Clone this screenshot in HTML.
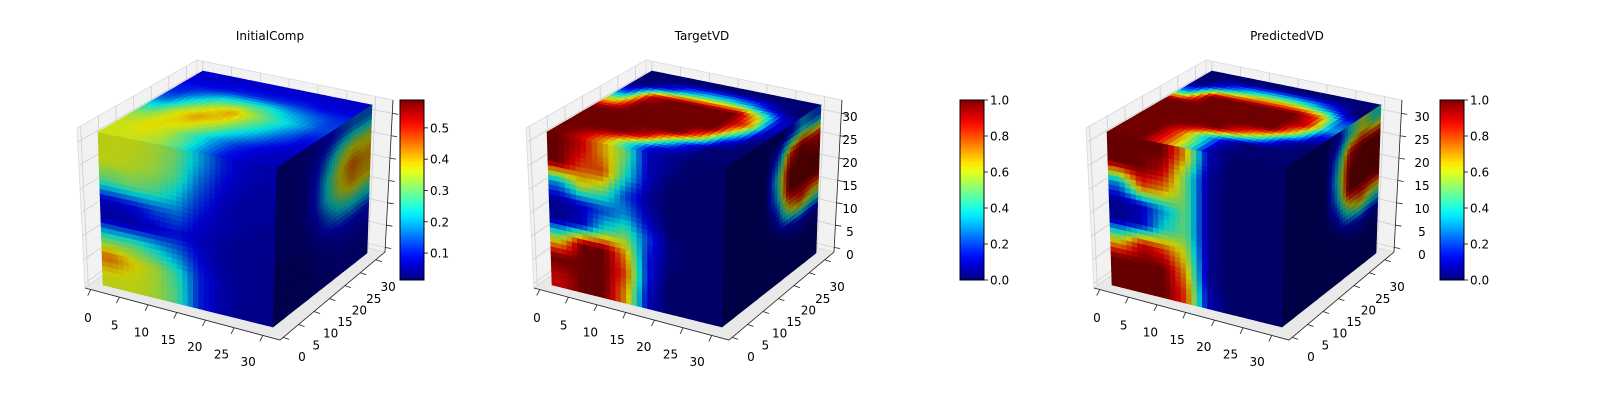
<!DOCTYPE html>
<html><head><meta charset="utf-8"><style>
html,body{margin:0;padding:0;background:#fff;}
svg{display:block;font-family:"DejaVu Sans","Liberation Sans",sans-serif;}
</style></head><body>
<svg id="fig" width="1600" height="400" viewBox="0 0 1600 400" xmlns="http://www.w3.org/2000/svg"></svg>
<script>
const panelTitles = ["InitialComp","TargetVD","PredictedVD"];
const panelDx = [0,449,1009];
const cbarX = [400,960,1440];
const cbarMin = [0.014,0,0];
const cbarMax = [0.589,1,1];
const cbarTicks1 = [0.1,0.2,0.3,0.4,0.5];
const cbarTicks2 = [0.0,0.2,0.4,0.6,0.8,1.0];
const axisTicks = [0,5,10,15,20,25,30];
// face value grids (rows x cols)
const p1Front=[[.36,.36,.34,.30,.20,.11,.07,.06],[.36,.35,.33,.28,.16,.09,.06,.05],[.28,.30,.28,.22,.12,.07,.05,.05],[.07,.09,.13,.15,.09,.06,.05,.04],[.05,.05,.07,.09,.07,.05,.04,.04],[.28,.28,.23,.17,.09,.05,.04,.04],[.45,.38,.34,.26,.11,.06,.04,.04],[.36,.36,.34,.28,.11,.06,.04,.04]];
const p1Top=[[.07,.07,.07,.07,.07,.07,.07,.07],[.09,.09,.11,.11,.11,.11,.09,.09],[.11,.18,.26,.28,.26,.20,.16,.12],[.16,.28,.36,.42,.33,.26,.20,.13],[.26,.36,.42,.38,.30,.23,.16,.10],[.33,.38,.38,.32,.24,.18,.12,.08],[.36,.38,.34,.26,.18,.12,.08,.06],[.36,.36,.34,.28,.18,.10,.07,.06]];
const p1Right=[[.03,.03,.04,.05,.08,.12,.15,.15],[.03,.03,.04,.08,.18,.30,.36,.35],[.03,.03,.04,.10,.25,.38,.46,.42],[.03,.03,.04,.10,.24,.36,.42,.40],[.03,.03,.03,.06,.14,.22,.25,.24],[.02,.02,.03,.04,.06,.08,.09,.08],[.02,.02,.02,.03,.04,.05,.05,.05],[.02,.02,.02,.03,.03,.04,.04,.04]];
const p2Front=[[1,.9,.7,.5,.1,.05,0,0],[1,.8,.8,.4,.1,0,0,0],[.3,.6,.5,.2,.05,0,0,0],[.05,.1,.2,.3,.1,0,0,0],[.05,.1,.4,.5,.2,.02,0,0],[.6,1,1,.7,.15,.02,0,0],[1,1,1,.8,.15,0,0,0],[.9,1,1,.7,.1,0,0,0]];
const p2Top=[[0,0,0,0,0,0,0,0],[0,.1,.3,.4,.4,.3,.1,0],[.2,.9,1,1,1,1,.6,.1],[.6,1,1,1,1,1,.8,.1],[1,1,1,1,1,1,.5,.05],[1,1,1,1,1,.7,.15,0],[1,1,1,.9,.5,.15,0,0],[1,.9,.7,.4,.1,.05,0,0]];
const p2Right=[[0,0,0,0,0,.1,.3,.2],[0,0,0,0,.2,.8,1,.9],[0,0,0,0,.4,1,1,1],[0,0,0,0,.3,1,1,1],[0,0,0,0,.1,.6,.8,.6],[0,0,0,0,0,.05,.1,.05],[0,0,0,0,0,0,0,0],[0,0,0,0,0,0,0,0]];
const p3Front=[[1,1,1,.7,.1,0,0,0],[1,1,.9,.5,.05,0,0,0],[.3,.8,.7,.5,.05,0,0,0],[.05,.1,.3,.5,.05,0,0,0],[.05,.1,.4,.5,.05,0,0,0],[.6,.9,.8,.6,.05,0,0,0],[1,1,1,.7,.05,0,0,0],[1,1,1,.8,.1,0,0,0]];
const p3Top=[[0,0,0,0,0,0,0,0],[0,.2,.4,.5,.5,.4,.2,0],[.3,1,1,1,1,1,.8,.2],[1,1,1,1,1,1,.9,.3],[1,1,1,1,1,1,.6,.1],[1,1,1,1,.8,.5,.1,0],[1,1,.8,.4,.1,0,0,0],[1,1,.8,.5,.05,0,0,0]];
const p3Right=[[0,0,0,0,.1,.4,.6,.4],[0,0,0,0,.3,.9,1,1],[0,0,0,0,.4,1,1,1],[0,0,0,0,.3,1,1,1],[0,0,0,0,.1,.5,.7,.5],[0,0,0,0,0,.05,.1,.05],[0,0,0,0,0,0,0,0],[0,0,0,0,0,0,0,0]];
const faces=[[p1Front,p1Top,p1Right],[p2Front,p2Top,p2Right],[p3Front,p3Top,p3Right]];

const NS="http://www.w3.org/2000/svg";
const svg=document.getElementById('fig');
function mk(tag,attrs,parent){const e=document.createElementNS(NS,tag);for(const k in attrs)e.setAttribute(k,attrs[k]);(parent||svg).appendChild(e);return e;}
function cl(x){return Math.max(0,Math.min(1,x));}
function jet(t,shade){t=cl(t);const r=cl(1.5-Math.abs(4*t-3)),g=cl(1.5-Math.abs(4*t-2)),b=cl(1.5-Math.abs(4*t-1));const s=shade||1;return `rgb(${Math.round(r*255*s)},${Math.round(g*255*s)},${Math.round(b*255*s)})`;}
function sample(grid,u,v){const R=grid.length,C=grid[0].length;let x=u*C-0.5,y=v*R-0.5;x=Math.max(0,Math.min(C-1,x));y=Math.max(0,Math.min(R-1,y));const x0=Math.floor(x),y0=Math.floor(y),x1=Math.min(C-1,x0+1),y1=Math.min(R-1,y0+1),fx=x-x0,fy=y-y0;return grid[y0][x0]*(1-fx)*(1-fy)+grid[y0][x1]*fx*(1-fy)+grid[y1][x0]*(1-fx)*fy+grid[y1][x1]*fx*fy;}
function quad(P,u,v){
const x=(1-u)*(1-v)*P[0][0]+u*(1-v)*P[1][0]+u*v*P[2][0]+(1-u)*v*P[3][0];
const y=(1-u)*(1-v)*P[0][1]+u*(1-v)*P[1][1]+u*v*P[2][1]+(1-u)*v*P[3][1];return [x,y];}
function drawFace(g,P,grid,vmin,vmax,shade,name){
const fg=mk('g',{},g);


const N=32;
for(let i=0;i<N;i++)for(let j=0;j<N;j++){
const u0=j/N,u1=(j+1)/N,v0=i/N,v1=(i+1)/N;
const val=sample(grid,(j+0.5)/N,(i+0.5)/N);
const c=jet((val-vmin)/(vmax-vmin),shade);
const pts=[quad(P,u0,v0),quad(P,u1,v0),quad(P,u1,v1),quad(P,u0,v1)].map(p=>p[0].toFixed(1)+','+p[1].toFixed(1)).join(' ');
const cell=mk('polygon',{points:pts,fill:c,stroke:c,'stroke-width':0.6},fg);


}}
function txt(g,x,y,s,anchor,size){const t=mk('text',{x:x,y:y,'font-size':size||12,'text-anchor':anchor||'middle',fill:'#000'},g);t.textContent=s;return t;}

for(let p=0;p<3;p++){
const dx=panelDx[p];
const g=mk('g',{});


const T=(x,y)=>[x+dx,y];
const pt=a=>a.map(q=>q[0]+','+q[1]).join(' ');
const L=T(77,128),Gb=T(197,60),R=T(393,100),Rb=T(385,252),Bb=T(197,207),FL=T(85,288),FB=T(280,340);
const pl=mk('polygon',{points:pt([L,Gb,Bb,FL]),fill:'#f2f2f2',stroke:'#d9d9d9','stroke-width':0.8},g);

const pb=mk('polygon',{points:pt([Gb,R,Rb,Bb]),fill:'#f2f2f2',stroke:'#d9d9d9','stroke-width':0.8},g);

const pf=mk('polygon',{points:pt([FL,Bb,Rb,FB]),fill:'#e9e9e9',stroke:'#d9d9d9','stroke-width':0.8},g);

for(const v of axisTicks){
const f=(v+1)/34;
mk('line',{x1:L[0]+(Gb[0]-L[0])*f,y1:L[1]+(Gb[1]-L[1])*f,x2:FL[0]+(Bb[0]-FL[0])*f,y2:FL[1]+(Bb[1]-FL[1])*f,stroke:'#cfcfcf','stroke-width':0.8},g);
mk('line',{x1:Gb[0]+(R[0]-Gb[0])*f,y1:Gb[1]+(R[1]-Gb[1])*f,x2:Bb[0]+(Rb[0]-Bb[0])*f,y2:Bb[1]+(Rb[1]-Bb[1])*f,stroke:'#cfcfcf','stroke-width':0.8},g);
const zf=1-f;
mk('line',{x1:L[0]+(FL[0]-L[0])*zf,y1:L[1]+(FL[1]-L[1])*zf,x2:Gb[0]+(Bb[0]-Gb[0])*zf,y2:Gb[1]+(Bb[1]-Gb[1])*zf,stroke:'#cfcfcf','stroke-width':0.8},g);
mk('line',{x1:Gb[0]+(Bb[0]-Gb[0])*zf,y1:Gb[1]+(Bb[1]-Gb[1])*zf,x2:R[0]+(Rb[0]-R[0])*zf,y2:R[1]+(Rb[1]-R[1])*zf,stroke:'#cfcfcf','stroke-width':0.8},g);
const xt=[FL[0]+(FB[0]-FL[0])*f,FL[1]+(FB[1]-FL[1])*f];
mk('line',{x1:xt[0],y1:xt[1],x2:xt[0]-3,y2:xt[1]+6,stroke:'#222','stroke-width':0.8},g);
const yt=[FB[0]+(Rb[0]-FB[0])*f,FB[1]+(Rb[1]-FB[1])*f];
mk('line',{x1:yt[0],y1:yt[1],x2:yt[0]+6,y2:yt[1]+2,stroke:'#222','stroke-width':0.8},g);
const zt=[Rb[0]+(R[0]-Rb[0])*f,Rb[1]+(R[1]-Rb[1])*f];
mk('line',{x1:zt[0],y1:zt[1],x2:zt[0]+6,y2:zt[1]+1,stroke:'#222','stroke-width':0.8},g);
}
mk('polyline',{points:pt([FL,FB,Rb,R]),fill:'none',stroke:'#222','stroke-width':0.8},g);
const A=T(98,132),B=T(277,168),C=T(273,327),D=T(103,285),E=T(372,105),F=T(367,253),G=T(203,71);
const [fr,tp,rt]=faces[p];
drawFace(g,[A,B,C,D],fr,cbarMin[p],cbarMax[p],0.8,'front-face');
drawFace(g,[G,E,B,A],tp,cbarMin[p],cbarMax[p],0.88,'top-face');
drawFace(g,[B,E,F,C],rt,cbarMin[p],cbarMax[p],0.55,'right-face');
for(const v of axisTicks){
const xl=txt(g,88+dx+v*5.34,322+v*1.46,String(v),'middle',12);

const yl=txt(g,302+dx+v*2.87,361-v*2.33,String(v),'middle',12);

if(p>0){const zl=txt(g,401+dx+(p==2?12:0),259-v*4.6,String(v),'middle',12);
}
}
const title=txt(g,[270,702,1287][p],40,panelTitles[p],'middle',12);

const gid='jg'+p;
const defs=mk('defs',{},g);
const lg=mk('linearGradient',{id:gid,x1:0,y1:1,x2:0,y2:0},defs);
for(let k=0;k<=20;k++)mk('stop',{offset:k/20,'stop-color':jet(k/20)},lg);
const cx=cbarX[p];
const cb=mk('rect',{x:cx,y:100,width:24,height:180,fill:`url(#${gid})`,stroke:'#000','stroke-width':1},g);

const ticks=p==0?cbarTicks1:cbarTicks2;
for(const t of ticks){
const y=280-(t-cbarMin[p])/(cbarMax[p]-cbarMin[p])*180;
mk('line',{x1:cx+24,y1:y,x2:cx+28,y2:y,stroke:'#000','stroke-width':0.8},g);
const cl2=txt(g,cx+30,y+4.5,t.toFixed(1),'start',12);

}
}
</script>
</body></html>
